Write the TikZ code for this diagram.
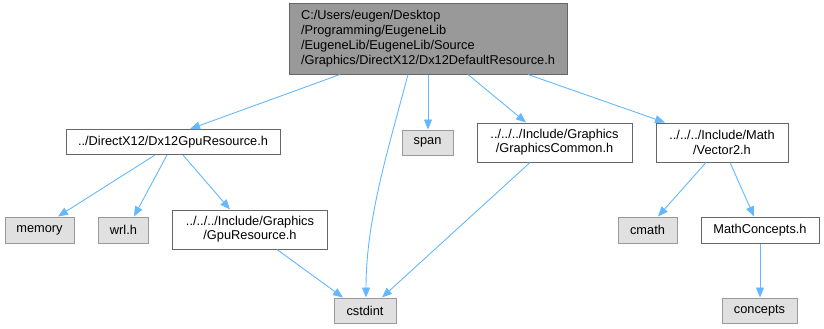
\documentclass[tikz,border=0pt]{standalone}
\usepackage{fontspec}
\setmainfont{Liberation Sans}
\usetikzlibrary{arrows.meta}
\definecolor{edgeblue}{HTML}{63B8FF}
\definecolor{boxline}{HTML}{666666}
\definecolor{extline}{HTML}{999999}
\definecolor{extfill}{HTML}{E0E0E0}
\definecolor{rootfill}{HTML}{999999}
\begin{document}
\begin{tikzpicture}[x=1pt,y=-1pt,
  every node/.style={font=\fontsize{12.8}{14.2}\selectfont, inner sep=0pt,
    align=center, line width=1pt},
  filebox/.style={draw=boxline, fill=white},
  extbox/.style={draw=extline, fill=extfill},
  rootbox/.style={draw=boxline, fill=rootfill, align=left,
    font=\fontsize{12.8}{15}\selectfont},
  dep/.style={draw=edgeblue, line width=0.9pt,
    -{Triangle[length=10pt,width=8pt]}}]
\useasboundingbox (0,0) rectangle (824,329);

% header being documented
\node[rootbox, minimum width=278pt, minimum height=70pt] (root) at (428,39)
  {C:/Users/eugen/Desktop\\/Programming/EugeneLib\\/EugeneLib/EugeneLib/Source\\/Graphics/DirectX12/Dx12DefaultResource.h};

% first level includes
\node[filebox, minimum width=214pt, minimum height=25pt] (gpures) at (173,142)
  {../DirectX12/Dx12GpuResource.h};
\node[extbox, minimum width=51pt, minimum height=25pt] (span) at (427.5,142.5) {span};
\node[filebox, minimum width=155pt, minimum height=39pt] (gfxcommon) at (554.5,142.5)
  {../../../Include/Graphics\\/GraphicsCommon.h};
\node[filebox, minimum width=132pt, minimum height=39pt] (vector2) at (722,142.5)
  {../../../Include/Math\\/Vector2.h};

% second level includes
\node[extbox, minimum width=69pt, minimum height=26pt] (memory) at (39.5,230) {memory};
\node[extbox, minimum width=50pt, minimum height=26pt] (wrl) at (123.5,230) {wrl.h};
\node[filebox, minimum width=155pt, minimum height=39pt] (igpures) at (250,229.5)
  {../../../Include/Graphics\\/GpuResource.h};
\node[extbox, minimum width=59pt, minimum height=26pt] (cmath) at (647.5,230) {cmath};
\node[filebox, minimum width=118pt, minimum height=26pt] (mathconc) at (760,230) {MathConcepts.h};

% third level includes
\node[extbox, minimum width=62pt, minimum height=25pt] (cstdint) at (365,310.5) {cstdint};
\node[extbox, minimum width=75pt, minimum height=25pt] (concepts) at (759.5,310.5) {concepts};

% include relations
\draw[dep] (root.south -| 340,0) -- (gpures.north -| 190,0);
\draw[dep] (root.south -| 408,0) .. controls (388,150) and (366,220) .. (cstdint.north -| 366,0);
\draw[dep] (root.south -| 428,0) -- (span.north -| 428,0);
\draw[dep] (root.south -| 468,0) -- (gfxcommon.north -| 526,0);
\draw[dep] (root.south -| 528,0) -- (vector2.north -| 665,0);

\draw[dep] (gpures.south -| 155,0) -- (memory.north -| 58,0);
\draw[dep] (gpures.south -| 167,0) -- (wrl.north -| 134,0);
\draw[dep] (gpures.south -| 183,0) -- (igpures.north -| 230,0);

\draw[dep] (igpures.south -| 277,0) -- (cstdint.north -| 343,0);
\draw[dep] (gfxcommon.south -| 530,0) -- (cstdint.north -| 382,0);

\draw[dep] (vector2.south -| 706,0) -- (cmath.north -| 658,0);
\draw[dep] (vector2.south -| 730,0) -- (mathconc.north -| 754,0);
\draw[dep] (mathconc.south -| 760,0) -- (concepts.north -| 760,0);
\end{tikzpicture}
\end{document}
